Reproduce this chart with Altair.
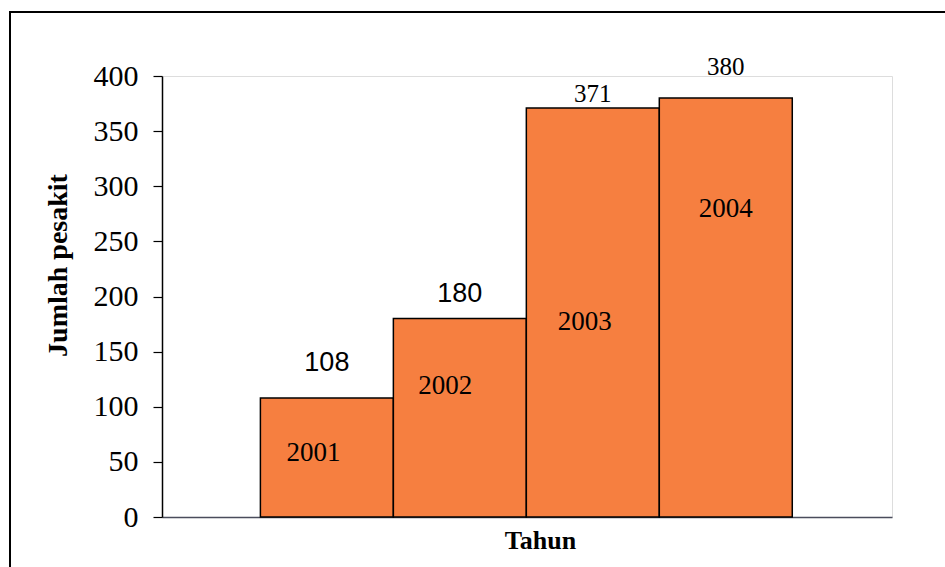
import altair as alt
import pandas as pd

years = ["2001", "2002", "2003", "2004"]
values = [108, 180, 371, 380]
# label anchor heights / x positions (data units)
value_label_y = [132, 195, 376, 401]
year_label_y = [51, 112, 170, 272]
year_label_x = [0.40, 1.39, 2.44, 3.50]
value_font = ["sans", "sans", "serif", "serif"]

df = pd.DataFrame({
    "year": years,
    "value": values,
    "idx": list(range(len(years))),
    "vly": value_label_y,
    "yly": year_label_y,
    "ylx": year_label_x,
    "vfont": value_font,
})

W, H = 730, 441
xscale = alt.Scale(domain=[-0.74, 4.75], nice=False, zero=False)
yscale = alt.Scale(domain=[0, 400], nice=False)

base = alt.Chart(df).transform_calculate(
    start="datum.idx", end="datum.idx + 1", mid="datum.idx + 0.5", zero="0"
)

bars = base.mark_bar(color="#F67F40", stroke="black", strokeWidth=1.5).encode(
    x=alt.X("start:Q", scale=xscale,
            axis=alt.Axis(title="Tahun", labels=False, ticks=False, grid=False,
                          domainColor="#4a4d5c", domainWidth=1.5,
                          titleFont="Liberation Serif", titleFontSize=26,
                          titleFontWeight="bold", titleColor="black",
                          titleX=378, titleY=31, titleBaseline="alphabetic",
                          titleAnchor="start", titleAlign="center")),
    x2="end:Q",
    y=alt.Y("value:Q", scale=yscale,
            axis=alt.Axis(title="Jumlah pesakit", values=list(range(0, 401, 50)),
                          grid=False, tickSize=9, tickColor="black", tickWidth=1.2,
                          domainColor="black", domainWidth=1.5,
                          labelFont="Liberation Serif", labelFontSize=30,
                          labelColor="black", labelPadding=15,
                          titleFont="Liberation Serif", titleFontSize=28,
                          titleFontWeight="bold", titleColor="black",
                          titleX=-104, titleY=189, titleBaseline="middle",
                          titleAngle=-90, titleAlign="center")),
    y2="zero:Q",
)

val_sans = base.transform_filter("datum.vfont == 'sans'").mark_text(
    font="Liberation Sans", fontSize=27, color="black", baseline="alphabetic"
).encode(x=alt.X("mid:Q", scale=xscale), y=alt.Y("vly:Q", scale=yscale), text="value:Q")

val_serif = base.transform_filter("datum.vfont == 'serif'").mark_text(
    font="Liberation Serif", fontSize=25, color="black", baseline="alphabetic"
).encode(x=alt.X("mid:Q", scale=xscale), y=alt.Y("vly:Q", scale=yscale), text="value:Q")

year_text = base.mark_text(
    font="Liberation Serif", fontSize=27, color="black", baseline="alphabetic"
).encode(x=alt.X("ylx:Q", scale=xscale), y=alt.Y("yly:Q", scale=yscale), text="year:N")

frame = alt.Chart(df).mark_rect(fill=None, stroke="black", strokeWidth=2, clip=False).encode(
    x=alt.value(-152), x2=alt.value(900), y=alt.value(-64), y2=alt.value(600)
)

chart = alt.layer(frame, bars, val_sans, val_serif, year_text).properties(
    width=W, height=H,
    autosize=alt.AutoSizeParams(type="none"),
    padding={"left": 162, "top": 76, "right": 53, "bottom": 50},
).configure_view(stroke="#7a7a80", strokeWidth=1.5).configure(background="white")

chart.save("out.html", embed_options={"renderer": "svg", "actions": False})
